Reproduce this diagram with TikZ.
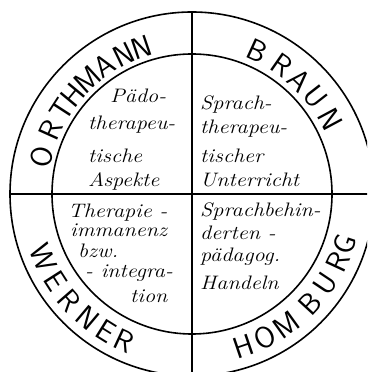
\documentclass[tikz,border=0pt]{standalone}
\usepackage{fontspec}
\begin{document}
\begin{tikzpicture}[x=1pt,y=1pt,
  ring/.style={line width=1.6pt},
  cross/.style={line width=1.6pt},
  crossh/.style={line width=2.6pt},
  capletter/.style={font=\sffamily\fontsize{30}{30}\selectfont, inner sep=0pt},
  hand/.style={font=\itshape\fontsize{19.5}{19.5}\selectfont, inner sep=0pt, anchor=base west, xscale=1.14}]
\useasboundingbox (0,0) rectangle (367,372);
\clip (0,0) rectangle (367,372);
\coordinate (C) at (192,178);
\draw[ring] (C) circle[radius=182];
\draw[ring] (C) circle[radius=140];
\coordinate (vt) at (192,360);
\coordinate (vb) at (192,-10);
\coordinate (hl) at (10,178);
\coordinate (hr) at (380,178);
\draw[cross] (vt) -- (vb);
\draw[crossh] (hl) -- (hr);
% ring names
\foreach \l/\a [count=\i] in {O/166.3,R/155.7,T/147.1,H/140.3,M/132.3,A/124.4,N/116.1,N/108.8}
  \node[capletter, rotate=\a-90] (orth\i) at ([shift={(\a:155)}]C) {\l};
\foreach \l/\a [count=\i] in {B/65.4,R/55.1,A/46.6,U/38,N/28.2}
  \node[capletter, rotate=\a-90] (braun\i) at ([shift={(\a:157)}]C) {\l};
\foreach \l/\a [count=\i] in {W/203.2,E/212.6,R/221,N/229.9,E/238,R/245.2}
  \node[capletter, rotate=\a+90] (werner\i) at ([shift={(\a:162)}]C) {\l};
\foreach \l/\a [count=\i] in {H/288.8,O/297,M/305.8,B/317.3,U/326.2,R/335,G/341.8}
  \node[capletter, rotate=\a+90] (homburg\i) at ([shift={(\a:161)}]C) {\l};
% quadrant texts
\node[hand] (tl1) at (110,269) {Pädo-};
\node[hand] (tl2) at (88,242) {therapeu-};
\node[hand] (tl3) at (88,209) {tische};
\node[hand] (tl4) at (88,185) {Aspekte};
\node[hand] (tr1) at (200,262) {Sprach-};
\node[hand] (tr2) at (200,238) {therapeu-};
\node[hand] (tr3) at (200,209) {tischer};
\node[hand] (tr4) at (200,185) {Unterricht};
\node[hand] (bl1) at (68,154) {Therapie -};
\node[hand] (bl2) at (70,135) {immanenz};
\node[hand] (bl3) at (78,114) {bzw.};
\node[hand] (bl4) at (85,94) {- integra-};
\node[hand] (bl5) at (130,69) {tion};
\node[hand] (br1) at (200,155) {Sprachbehin-};
\node[hand] (br2) at (200,132) {derten -};
\node[hand] (br3) at (200,110) {pädagog.};
\node[hand] (br4) at (200,82) {Handeln};
\end{tikzpicture}
\end{document}
